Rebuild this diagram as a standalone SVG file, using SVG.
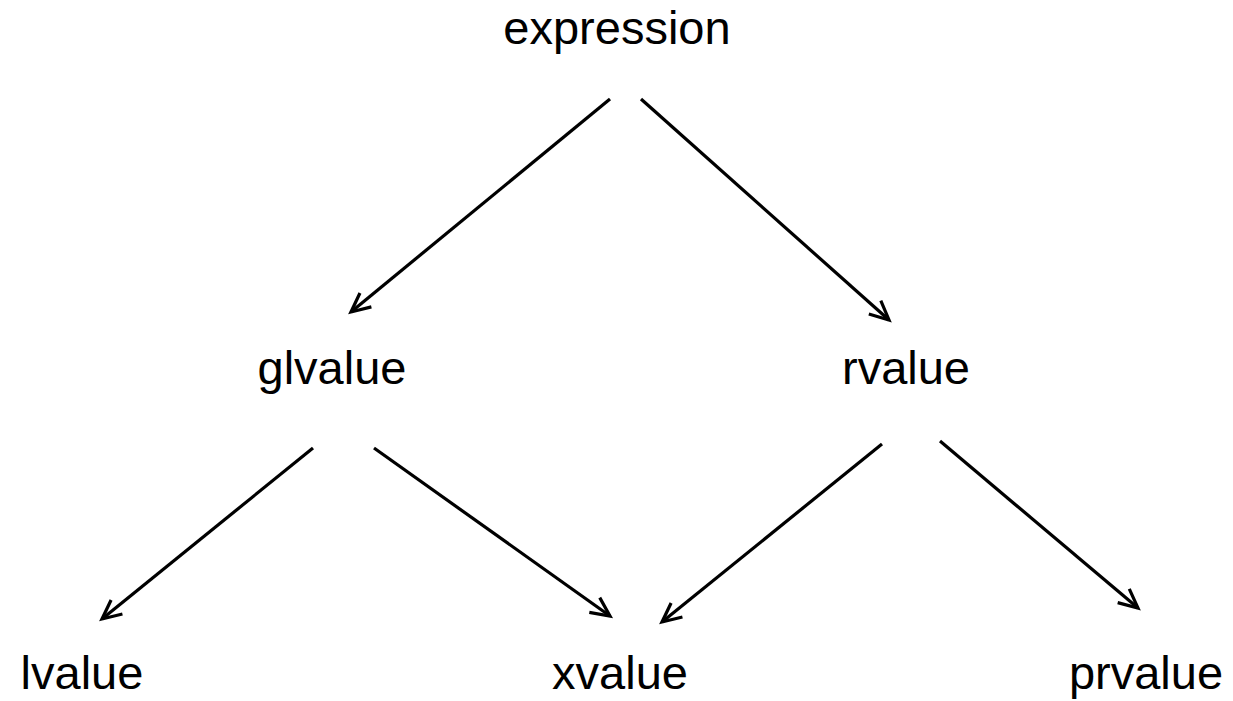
<svg xmlns="http://www.w3.org/2000/svg" width="1233" height="701" viewBox="0 0 1233 701">
<style>
.lbl{font-family:"Liberation Sans",Arial,sans-serif;font-size:47px;fill:#000;text-anchor:middle}
.edge{stroke:#000;stroke-width:3.2;fill:none}
</style>
<defs>
<marker id="arr" markerUnits="userSpaceOnUse" markerWidth="40" markerHeight="40" viewBox="-25 -20 30 40" refX="0" refY="0" orient="auto">
<path d="M-19,-9 L0,0 L-19,9" fill="none" stroke="#000" stroke-width="3.2" stroke-linejoin="miter"/>
</marker>
</defs>
<rect width="1233" height="701" fill="#fff"/>
<g id="connectors">
<line class="edge" x1="610" y1="99" x2="351" y2="312" marker-end="url(#arr)"/>
<line class="edge" x1="641" y1="99" x2="889" y2="320" marker-end="url(#arr)"/>
<line class="edge" x1="313" y1="448" x2="102" y2="619" marker-end="url(#arr)"/>
<line class="edge" x1="374" y1="448" x2="610" y2="616" marker-end="url(#arr)"/>
<line class="edge" x1="882" y1="444" x2="662" y2="622" marker-end="url(#arr)"/>
<line class="edge" x1="940" y1="441" x2="1138" y2="608" marker-end="url(#arr)"/>
</g>
<g id="expression"><text class="lbl" x="617" y="44">expression</text></g>
<g id="glvalue"><text class="lbl" x="332" y="384">glvalue</text></g>
<g id="rvalue"><text class="lbl" x="906" y="384">rvalue</text></g>
<g id="lvalue"><text class="lbl" x="82" y="689">lvalue</text></g>
<g id="xvalue"><text class="lbl" x="620" y="689">xvalue</text></g>
<g id="prvalue"><text class="lbl" x="1146" y="689">prvalue</text></g>
</svg>
